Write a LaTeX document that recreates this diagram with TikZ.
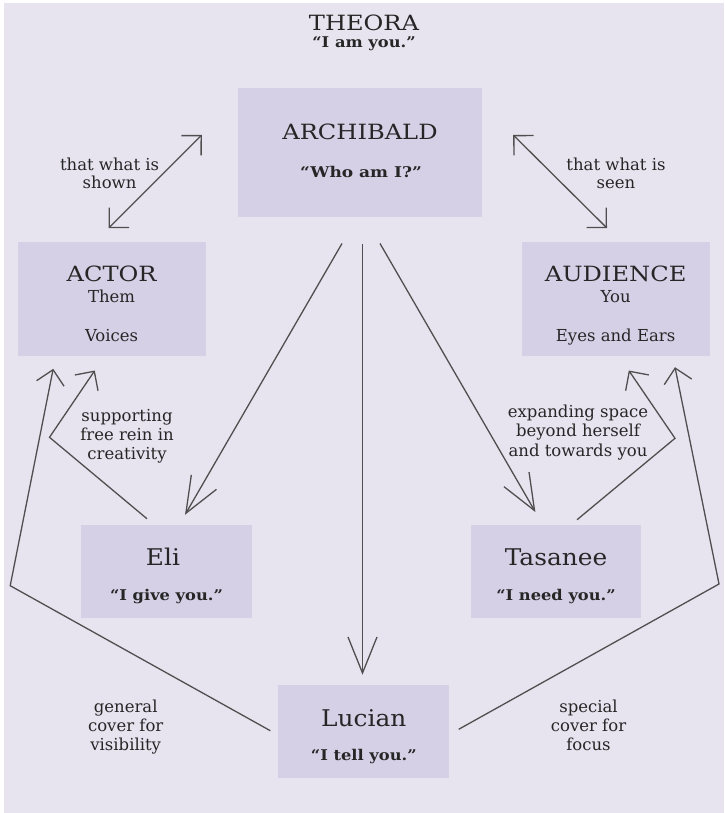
\documentclass[tikz,border=0pt]{standalone}
\usepackage{fontspec}
\setmainfont{DejaVu Serif}
\usetikzlibrary{arrows.meta,calc}
\definecolor{bgc}{HTML}{E7E4F0}
\definecolor{boxc}{HTML}{D5D0E6}
\definecolor{linec}{HTML}{4F4F4F}
\definecolor{txtc}{HTML}{262626}
\newcommand{\stretchtxt}[2]{\scalebox{#1}[1]{#2}}
\tikzset{
  boxnode/.style={rectangle, fill=boxc, inner sep=0pt},
  lbl/.style={anchor=base, inner sep=0pt, text=txtc, font=\fontsize{16.5}{20}\selectfont},
  ttl/.style={anchor=base, inner sep=0pt, text=txtc, font=\fontsize{21}{25}\selectfont},
  nmtxt/.style={anchor=base, inner sep=0pt, text=txtc, font=\fontsize{23}{27}\selectfont},
  qt/.style={anchor=base, inner sep=0pt, text=txtc, font=\fontsize{14.8}{18}\selectfont\bfseries},
  conn/.style={draw=linec, line width=1.3pt},
  shorthead/.style={-{Straight Barb[length=14pt,width=28pt]}},
  longhead/.style={-{Straight Barb[length=36pt,width=29pt]}},
  dblhead/.style={{Straight Barb[length=14pt,width=28pt]}-{Straight Barb[length=14pt,width=28pt]}}
}
\begin{document}
\begin{tikzpicture}[x=1pt,y=-1pt]
\useasboundingbox (0,0) rectangle (724,813);
\fill[white] (0,0) rectangle (724,813);
\fill[bgc] (4,3) rectangle (724,813);

% boxes
\node[boxnode, minimum width=244pt, minimum height=129pt] (arch) at (360,152.5) {};
\node[boxnode, minimum width=188pt, minimum height=114pt] (actor) at (111.6,299) {};
\node[boxnode, minimum width=188pt, minimum height=114pt] (aud) at (615.6,299) {};
\node[boxnode, minimum width=171pt, minimum height=92.7pt] (eli) at (166.5,571.3) {};
\node[boxnode, minimum width=170.6pt, minimum height=92.7pt] (tas) at (556,571.3) {};
\node[boxnode, minimum width=171pt, minimum height=92.7pt] (luc) at (363.8,731.3) {};

% texts
\node[ttl] (theoraT) at (364,30.7) {\stretchtxt{1.15}{THEORA}};
\node[qt] (theoraQ) at (364,47.7) {\stretchtxt{1.1}{“I am you.”}};
\node[ttl] (archT) at (360,139.3) {\stretchtxt{1.15}{ARCHIBALD}};
\node[qt] (archQ) at (361,177.3) {\stretchtxt{1.15}{“Who am I?”}};
\node[ttl] (actorT) at (111.6,281) {\stretchtxt{1.15}{ACTOR}};
\node[lbl] (actorA) at (111.6,302.7) {Them};
\node[lbl] (actorB) at (111.6,341) {Voices};
\node[ttl] (audT) at (615.6,281) {\stretchtxt{1.15}{AUDIENCE}};
\node[lbl] (audA) at (615.6,302.7) {You};
\node[lbl] (audB) at (615.6,341) {Eyes and Ears};
\node[nmtxt] (eliT) at (163,565) {\stretchtxt{1.08}{Eli}};
\node[qt] (eliQ) at (166.5,600) {\stretchtxt{1.1}{“I give you.”}};
\node[nmtxt] (tasT) at (556,565) {\stretchtxt{1.08}{Tasanee}};
\node[qt] (tasQ) at (556,600) {\stretchtxt{1.1}{“I need you.”}};
\node[nmtxt] (lucT) at (363.8,726.7) {\stretchtxt{1.08}{Lucian}};
\node[qt] (lucQ) at (363.8,760.7) {\stretchtxt{1.1}{“I tell you.”}};

\node[lbl] (shownA) at (109.6,170.7) {that what is};
\node[lbl] (shownB) at (109.6,188.3) {shown};
\node[lbl] (seenA) at (616,170.7) {that what is};
\node[lbl] (seenB) at (616,188.3) {seen};
\node[lbl] (supA) at (127,421) {supporting};
\node[lbl] (supB) at (127,440) {free rein in};
\node[lbl] (supC) at (127,459) {creativity};
\node[lbl] (expA) at (578,417) {expanding space};
\node[lbl] (expB) at (578,436.5) {beyond herself};
\node[lbl] (expC) at (578,456) {and towards you};
\node[lbl] (genA) at (125.7,712) {general};
\node[lbl] (genB) at (125.7,731) {cover for};
\node[lbl] (genC) at (125.7,750) {visibility};
\node[lbl] (speA) at (588.5,712) {special};
\node[lbl] (speB) at (588.5,731) {cover for};
\node[lbl] (speC) at (588.5,750) {focus};

% bend points
\coordinate (bendEli) at (49.5,437.3);
\coordinate (bendLucL) at (10.2,585.7);
\coordinate (bendTas) at (675,438.3);
\coordinate (bendLucR) at (719,584);

% connectors
\draw[conn, dblhead] ($(actor.north)+(-3,-13.7)$) -- ($(arch.west)+(-36,-17.5)$);
\draw[conn, dblhead] ($(arch.east)+(31,-17.5)$) -- ($(aud.north)+(-8.6,-13.7)$);
\draw[conn, longhead] ($(arch.south)+(-18,26.3)$) -- ($(eli.north)+(18.5,-10)$);
\draw[conn, longhead] ($(arch.south)+(2.5,26.3)$) -- ($(luc.north)+(-1.3,-10)$);
\draw[conn, longhead] ($(arch.south)+(20,26.3)$) -- ($(tas.north)+(-20.6,-12.7)$);
\draw[conn, shorthead] ($(eli.north)+(-19.5,-6)$) -- (bendEli) -- ($(actor.south)+(-16.8,14.3)$);
\draw[conn, shorthead] ($(luc.west)+(-7.8,-0.6)$) -- (bendLucL) -- ($(actor.south)+(-58.4,12.6)$);
\draw[conn, shorthead] ($(tas.north)+(21,-5)$) -- (bendTas) -- ($(aud.south)+(13.2,14.3)$);
\draw[conn, shorthead] ($(luc.east)+(9.2,-2)$) -- (bendLucR) -- ($(aud.south)+(59.4,11)$);
\end{tikzpicture}
\end{document}
